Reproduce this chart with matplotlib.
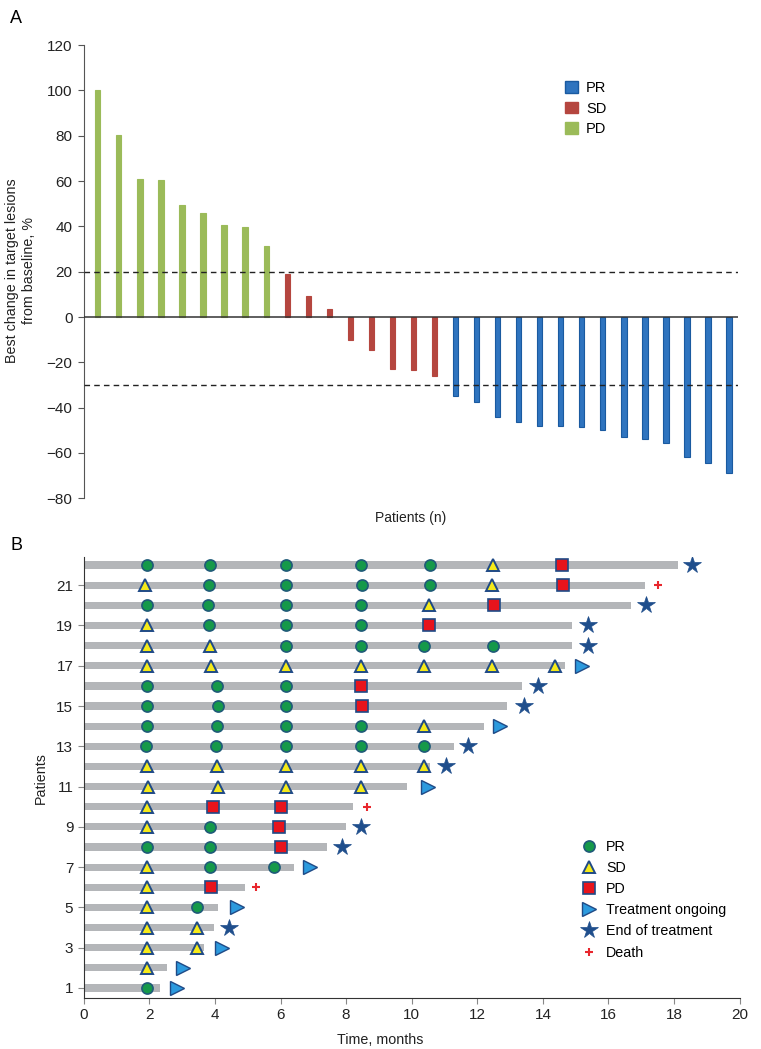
import matplotlib.pyplot as plt
from matplotlib.patches import Patch
from matplotlib.lines import Line2D

plt.rcParams['font.family'] = ['Liberation Sans', 'DejaVu Sans']

# ---- panel A data: best change in target lesions ----
best_change = [100.2, 80.4, 60.9, 60.3, 49.4, 45.8, 40.5, 39.7, 31.2,
               18.8, 9.1, 3.5, -10.2, -14.5, -23.0, -23.6, -26.2,
               -35.0, -37.5, -44.3, -46.4, -48.0, -48.1, -48.4, -50.0,
               -53.1, -53.7, -55.6, -61.7, -64.3, -68.7]
best_resp = ["PD"] * 9 + ["SD"] * 8 + ["PR"] * 14
a_yticks = [-80, -60, -40, -20, 0, 20, 40, 60, 80, 100, 120]

# ---- panel B data: swimmer plot ----
patients = list(range(1, 23))
bar_end = [2.32, 2.53, 3.66, 3.97, 4.10, 4.93, 6.41, 7.41, 7.99, 8.20, 9.87,
           10.55, 11.28, 12.21, 12.90, 13.36, 14.67, 14.90, 14.90, 16.68,
           17.10, 18.13]
end_kind = ["ongoing", "ongoing", "ongoing", "end", "ongoing", "death",
            "ongoing", "end", "end", "death", "ongoing", "end", "end",
            "ongoing", "end", "end", "ongoing", "end", "end", "end",
            "death", "end"]
end_time = [2.83, 3.04, 4.21, 4.43, 4.67, 5.26, 6.91, 7.87, 8.46, 8.63, 10.50,
            11.05, 11.71, 12.70, 13.42, 13.86, 15.20, 15.36, 15.36, 17.14,
            17.50, 18.55]
assess_time = [
    [1.93],
    [1.93],
    [1.93, 3.46],
    [1.93, 3.46],
    [1.93, 3.46],
    [1.93, 3.87],
    [1.93, 3.84, 5.79],
    [1.93, 3.84, 6.00],
    [1.93, 3.84, 5.95],
    [1.93, 3.95, 6.03],
    [1.95, 4.09, 6.16, 8.46],
    [1.93, 4.05, 6.16, 8.46, 10.37],
    [1.89, 4.03, 6.16, 8.46, 10.37],
    [1.93, 4.05, 6.16, 8.46, 10.37],
    [1.93, 4.09, 6.16, 8.49],
    [1.93, 4.05, 6.16, 8.46],
    [1.93, 3.87, 6.18, 8.46, 10.39, 12.45, 14.37],
    [1.93, 3.84, 6.16, 8.46, 10.37, 12.47],
    [1.93, 3.82, 6.16, 8.46, 10.54],
    [1.93, 3.79, 6.16, 8.46, 10.54, 12.51],
    [1.88, 3.82, 6.16, 8.49, 10.57, 12.45, 14.60],
    [1.93, 3.86, 6.16, 8.46, 10.57, 12.47, 14.58],
]
assess_resp = [
    ["PR"],
    ["SD"],
    ["SD", "SD"],
    ["SD", "SD"],
    ["SD", "PR"],
    ["SD", "PD"],
    ["SD", "PR", "PR"],
    ["PR", "PR", "PD"],
    ["SD", "PR", "PD"],
    ["SD", "PD", "PD"],
    ["SD", "SD", "SD", "SD"],
    ["SD", "SD", "SD", "SD", "SD"],
    ["PR", "PR", "PR", "PR", "PR"],
    ["PR", "PR", "PR", "PR", "SD"],
    ["PR", "PR", "PR", "PD"],
    ["PR", "PR", "PR", "PD"],
    ["SD", "SD", "SD", "SD", "SD", "SD", "SD"],
    ["SD", "SD", "PR", "PR", "PR", "PR"],
    ["SD", "PR", "PR", "PR", "PD"],
    ["PR", "PR", "PR", "PR", "SD", "PD"],
    ["SD", "PR", "PR", "PR", "PR", "SD", "PD"],
    ["PR", "PR", "PR", "PR", "PR", "SD", "PD"],
]

# styles
BAR_FILL = {"PR": "#2f74bf", "SD": "#b5463f", "PD": "#9bbb59"}
BAR_EDGE = {"PR": "#1a5aa0", "SD": "#b5463f", "PD": "#9bbb59"}
EDGE = "#1f4a86"
RESP_STYLE = {
    "PR": dict(marker="o", ms=8, mfc="#15994a", mec="#1f5a78", mew=1.2),
    "SD": dict(marker="^", ms=8, mfc="#f5ea1a", mec=EDGE, mew=1.4),
    "PD": dict(marker="s", ms=8, mfc="#e8141c", mec=EDGE, mew=1.2),
}
END_STYLE = {
    "ongoing": dict(marker=">", ms=10, mfc="#2c9ade", mec=EDGE, mew=1.0),
    "end": dict(marker="*", ms=13, mfc="#1f4e8c", mec="#1f4e8c", mew=0.5),
    "death": dict(marker="+", ms=6, mfc="#e8262d", mec="#e8262d", mew=1.5),
}
TXT = "#222222"

fig = plt.figure(figsize=(7.61, 10.49), dpi=100)

# ---------------- panel A ----------------
axA = fig.add_axes([0.110, 0.525, 0.860, 0.432])
xs = list(range(len(best_change)))
axA.bar(xs, best_change, width=0.25,
        color=[BAR_FILL[r] for r in best_resp],
        edgecolor=[BAR_EDGE[r] for r in best_resp], linewidth=0.8, zorder=2)
axA.axhline(0, color="#333333", lw=1.1, zorder=3)
for yv in (20, -30):
    axA.axhline(yv, color="#222222", lw=1.0, ls=(0, (4, 3)), zorder=3)
axA.set_xlim(-0.67, 30.43)
axA.set_ylim(-80, 120)
axA.set_yticks(a_yticks)
axA.set_xticks([])
for s in ("top", "right", "bottom"):
    axA.spines[s].set_visible(False)
axA.spines["left"].set_color("#555555")
axA.tick_params(axis="y", direction="out", length=4.5, labelsize=11,
                color="#555555", labelcolor=TXT)
axA.legend(handles=[Patch(facecolor=BAR_FILL[k], edgecolor=BAR_EDGE[k], label=k)
                    for k in ("PR", "SD", "PD")],
           loc="upper left", bbox_to_anchor=(0.725, 0.937), frameon=False,
           fontsize=10.5, handlelength=0.85, handleheight=0.85, handletextpad=0.55,
           labelspacing=0.45, borderpad=0)
fig.text(0.027, 1 - 271 / 1049, "Best change in target lesions\nfrom baseline, %",
         rotation=90, ha="center", va="center", fontsize=10.3, color=TXT)
fig.text(411 / 761, 1 - 518 / 1049, "Patients (n)", ha="center", va="center",
         fontsize=10, color=TXT)
fig.text(16 / 761, 1 - 18.5 / 1049, "A", ha="center", va="center", fontsize=13)

# ---------------- panel B ----------------
axB = fig.add_axes([0.110, 0.0486, 0.862, 0.4204])
axB.barh(patients, bar_end, height=0.36, color="#b4b6b9", zorder=1)
for p, times, resps in zip(patients, assess_time, assess_resp):
    for t, r in zip(times, resps):
        axB.plot(t, p, ls="none", zorder=3, **RESP_STYLE[r])
for p, t, k in zip(patients, end_time, end_kind):
    axB.plot(t, p, ls="none", zorder=3, **END_STYLE[k])
axB.set_xlim(0, 20)
axB.set_ylim(0.5, 22.4)
axB.set_xticks(range(0, 21, 2))
axB.set_yticks(range(1, 22, 2))
for s in ("top", "right"):
    axB.spines[s].set_visible(False)
for s in ("left", "bottom"):
    axB.spines[s].set_color("#333333")
axB.tick_params(direction="out", length=4, labelsize=11, color="#888888",
                labelcolor=TXT)
legB = [Line2D([], [], ls="none", label="PR", **RESP_STYLE["PR"]),
        Line2D([], [], ls="none", label="SD", **RESP_STYLE["SD"]),
        Line2D([], [], ls="none", label="PD", **RESP_STYLE["PD"]),
        Line2D([], [], ls="none", label="Treatment ongoing", **END_STYLE["ongoing"]),
        Line2D([], [], ls="none", label="End of treatment", **END_STYLE["end"]),
        Line2D([], [], ls="none", label="Death", **END_STYLE["death"])]
axB.legend(handles=legB, loc="upper left", bbox_to_anchor=(0.748, 0.375),
           frameon=False, fontsize=10.3, handlelength=1.0, handletextpad=0.7,
           labelspacing=0.5, borderpad=0)
fig.text(41 / 761, 1 - 778 / 1049, "Patients", rotation=90, ha="center",
         va="center", fontsize=10.3, color=TXT)
fig.text(380 / 761, 1 - 1040 / 1049, "Time, months", ha="center", va="center",
         fontsize=10.3, color=TXT)
fig.text(16 / 761, 1 - 545 / 1049, "B", ha="center", va="center", fontsize=13)

fig.savefig("out.png", dpi=100)
